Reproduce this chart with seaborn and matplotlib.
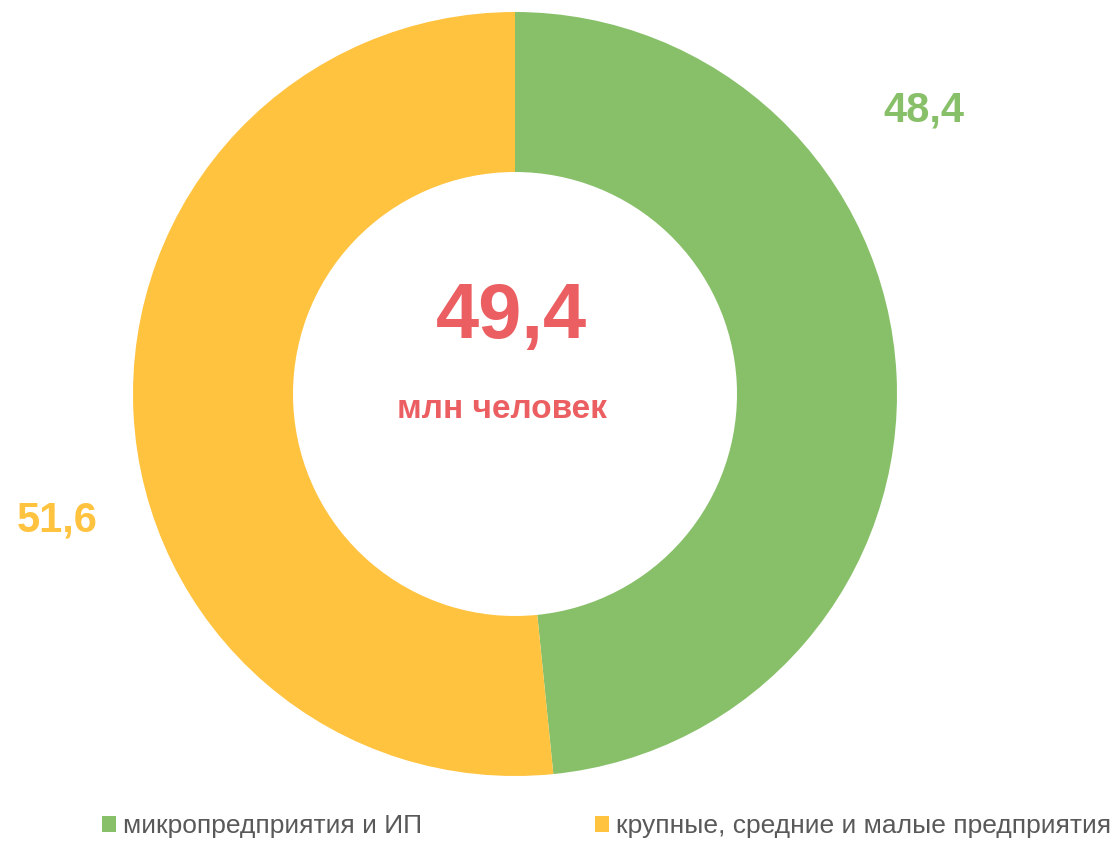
import matplotlib
matplotlib.use("Agg")
import matplotlib.pyplot as plt
import seaborn as sns
from matplotlib import font_manager

categories = ["микропредприятия и ИП", "крупные, средние и малые предприятия"]
values = [48.4, 51.6]
value_labels = ["48,4", "51,6"]
center_value = "49,4"
center_unit = "млн человек"

sns.set_theme(style="white")
names = {f.name for f in font_manager.fontManager.ttflist}
main_font = "Liberation Sans" if "Liberation Sans" in names else "DejaVu Sans"
plt.rcParams["font.family"] = [main_font, "DejaVu Sans"]

colors = ["#88C06A", "#FFC33F"]
red = "#EB5F62"

fig = plt.figure(figsize=(11.14, 8.42), dpi=100)
ax = fig.add_axes([0, 0, 1, 1])
wedges, _ = ax.pie(values, colors=colors, radius=382, startangle=90, counterclock=False,
                   wedgeprops=dict(width=160, linewidth=0))
ax.set_xlim(-515, 1114 - 515)
ax.set_ylim(-448, 394)
ax.set_aspect("equal")
ax.axis("off")

def P(x, y):
    return x - 515, 394 - y

ax.text(*P(924, 110), value_labels[0], color=colors[0], fontsize=30, fontweight="bold",
        ha="center", va="center")
ax.text(*P(57, 521), value_labels[1], color=colors[1], fontsize=30, fontweight="bold",
        ha="center", va="center")
ax.text(*P(511, 318), center_value, color=red, fontsize=56, fontweight="bold",
        ha="center", va="center")
ax.text(*P(502, 410), center_unit, color=red, fontsize=24, fontweight="bold",
        ha="center", va="center")

leg = fig.legend(wedges, categories, loc="center left", bbox_to_anchor=(78 / 1114, 1 - 826 / 842),
                 ncol=2, frameon=False, handlelength=0.55, handleheight=0.55, handletextpad=0.25,
                 columnspacing=6.55, prop={"size": 19})
for t in leg.get_texts():
    t.set_color("#595959")

fig.savefig("out.png", dpi=100)
